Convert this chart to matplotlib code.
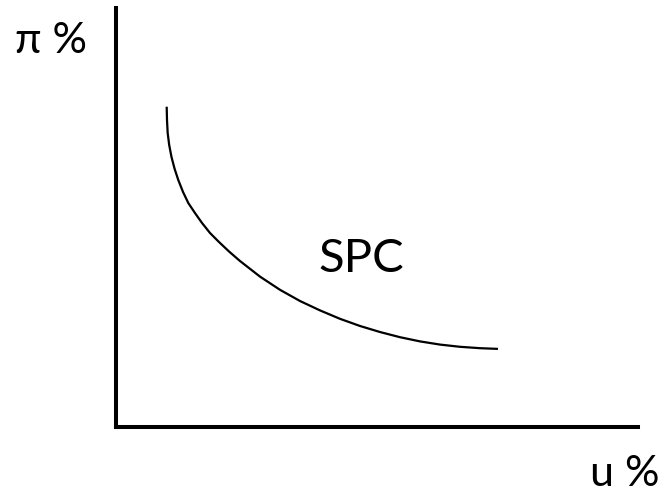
import matplotlib
matplotlib.use("Agg")
import matplotlib.pyplot as plt

# SPC curve (u and pi on a 0-10 scale along each axis)
u_vals = [0.971, 0.977, 0.990, 1.019, 1.063, 1.121, 1.193, 1.284, 1.385, 1.513,
          1.648, 1.801, 1.973, 2.165, 2.375, 2.759, 3.142, 3.525, 3.908, 4.291,
          4.674, 5.057, 5.441, 5.824, 6.207, 6.590, 6.973, 7.318]
pi_vals = [7.644, 7.327, 7.017, 6.730, 6.444, 6.169, 5.895, 5.609, 5.346, 5.107,
           4.869, 4.630, 4.415, 4.189, 3.962, 3.589, 3.274, 3.007, 2.783, 2.582,
           2.411, 2.267, 2.143, 2.043, 1.967, 1.914, 1.881, 1.864]

y_label = "π %"
x_label = "u %"
curve_label = "SPC"

W, H = 667, 494
plt.rcParams["font.family"] = ["Lato", "DejaVu Sans"]
fig = plt.figure(figsize=(W / 100, H / 100), dpi=100)
ax = fig.add_axes([116 / W, 1 - 427 / H, 522 / W, 419 / H])
ax.set_xlim(0, 10)
ax.set_ylim(0, 10)
ax.plot(u_vals, pi_vals, color="black", linewidth=1.6, solid_capstyle="butt",
        solid_joinstyle="round")

for side in ["top", "right"]:
    ax.spines[side].set_visible(False)
for side in ["left", "bottom"]:
    ax.spines[side].set_linewidth(2.9)
    ax.spines[side].set_capstyle("projecting")
ax.set_xticks([])
ax.set_yticks([])
ax.patch.set_visible(False)

fig.text(15 / W, 1 - 53 / H, y_label, fontsize=31, va="baseline", ha="left")
fig.text(590 / W, 1 - 486 / H, x_label, fontsize=31, va="baseline", ha="left")
fig.text(318 / W, 1 - 272 / H, curve_label, fontsize=34, va="baseline", ha="left")

fig.savefig("out.png", dpi=100, facecolor="white")
